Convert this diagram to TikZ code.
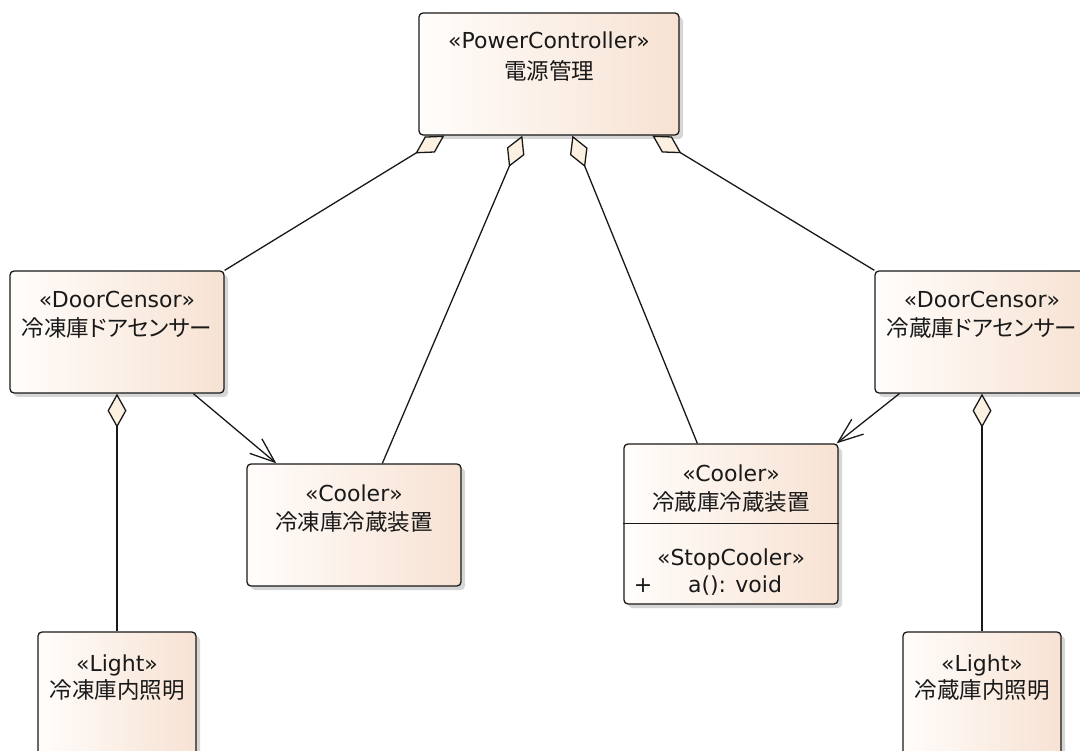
\documentclass[tikz,border=0pt]{standalone}
\usepackage{fontspec}
\setmainfont{DejaVu Sans}
\newfontfamily\jp[RawFeature={+palt}]{Noto Sans CJK JP}
\usetikzlibrary{arrows.meta,shadows,calc}
\definecolor{boxL}{RGB}{255,253,251}
\definecolor{boxR}{RGB}{247,226,211}
\definecolor{diam}{RGB}{252,241,224}
\definecolor{ink}{RGB}{25,25,25}
\tikzset{
  cls/.style={draw=ink, line width=1.3pt, rounded corners=4pt, rectangle,
    left color=boxL, right color=boxR, minimum width=214pt, minimum height=122pt,
    inner sep=0pt,
    drop shadow={shadow xshift=4pt, shadow yshift=-4pt, fill=black!16, opacity=1}},
  lat/.style={font=\fontsize{22}{26}\selectfont, text height=16pt, text depth=0pt, inner sep=0pt, text=ink},
  jpt/.style={font=\jp\fontsize{22.5}{26}\selectfont, text height=18pt, text depth=2pt, inner sep=0pt, text=ink},
  conn/.style={draw=ink, line width=1.3pt},
  agg/.style={conn, {Diamond[length=34pt,width=19pt,fill=diam]}-},
  nav/.style={conn, -{Straight Barb[length=25pt,width=19pt]}},
}
\begin{document}
\begin{tikzpicture}[x=1pt,y=-1pt]
\useasboundingbox (0,0) rectangle (1080,751);
\clip (0,0) rectangle (1080,751);
% boxes
\node[cls, minimum width=260pt] (pc) at (549,74) {};
\node[cls] (dl) at (117,332) {};
\node[cls] (dr) at (982,332) {};
\node[cls] (cl) at (354,525) {};
\node[cls, minimum height=160pt] (cr) at (731,524) {};
\node[cls, minimum width=158pt, minimum height=138pt] (ll) at (117,701) {};
\node[cls, minimum width=158pt, minimum height=138pt] (lr) at (982,701) {};
% texts
\node[lat] (pcS) at (549,41) {«PowerController»};
\node[jpt] (pcN) at (549,72) {電源管理};
\node[lat] (dlS) at (117,300) {«DoorCensor»};
\node[jpt] (dlN) at (117,328.5) {冷凍庫ドアセンサー};
\node[lat] (drS) at (982,300) {«DoorCensor»};
\node[jpt] (drN) at (982,328.5) {冷蔵庫ドアセンサー};
\node[lat] (clS) at (354,493) {«Cooler»};
\node[jpt] (clN) at (354,522) {冷凍庫冷蔵装置};
\node[lat] (crS) at (731,474) {«Cooler»};
\node[jpt] (crN) at (731,502) {冷蔵庫冷蔵装置};
\draw[conn] ([yshift=-80pt]cr.north west) coordinate (sepL) -- ([yshift=-80pt]cr.north east) coordinate (sepR);
\node[lat] (crO) at (731,557) {«StopCooler»};
\node[lat] (crP) at (643,584) {+};
\node[lat] (crA) at (735,584) {a(): void};
\node[lat] (llS) at (117,663) {«Light»};
\node[jpt] (llN) at (117,690.5) {冷凍庫内照明};
\node[lat] (lrS) at (982,663) {«Light»};
\node[jpt] (lrN) at (982,690.5) {冷蔵庫内照明};
% aggregations
\draw[agg] ([xshift=26pt]pc.south west) -- (dl.north east);
\draw[agg] ([xshift=104pt]pc.south west) -- ([xshift=136pt]cl.north west);
\draw[agg] ([xshift=154pt]pc.south west) -- ([xshift=74pt]cr.north west);
\draw[agg] ([xshift=234pt]pc.south west) -- (dr.north west);
\draw[agg] (dl.south) -- (ll.north);
\draw[agg] (dr.south) -- (lr.north);
% navigable associations
\draw[nav] ([xshift=184pt]dl.south west) -- ([xshift=30pt]cl.north west);
\draw[nav] ([xshift=25pt]dr.south west) -- ([xshift=-2pt]cr.north east);
\end{tikzpicture}
\end{document}
